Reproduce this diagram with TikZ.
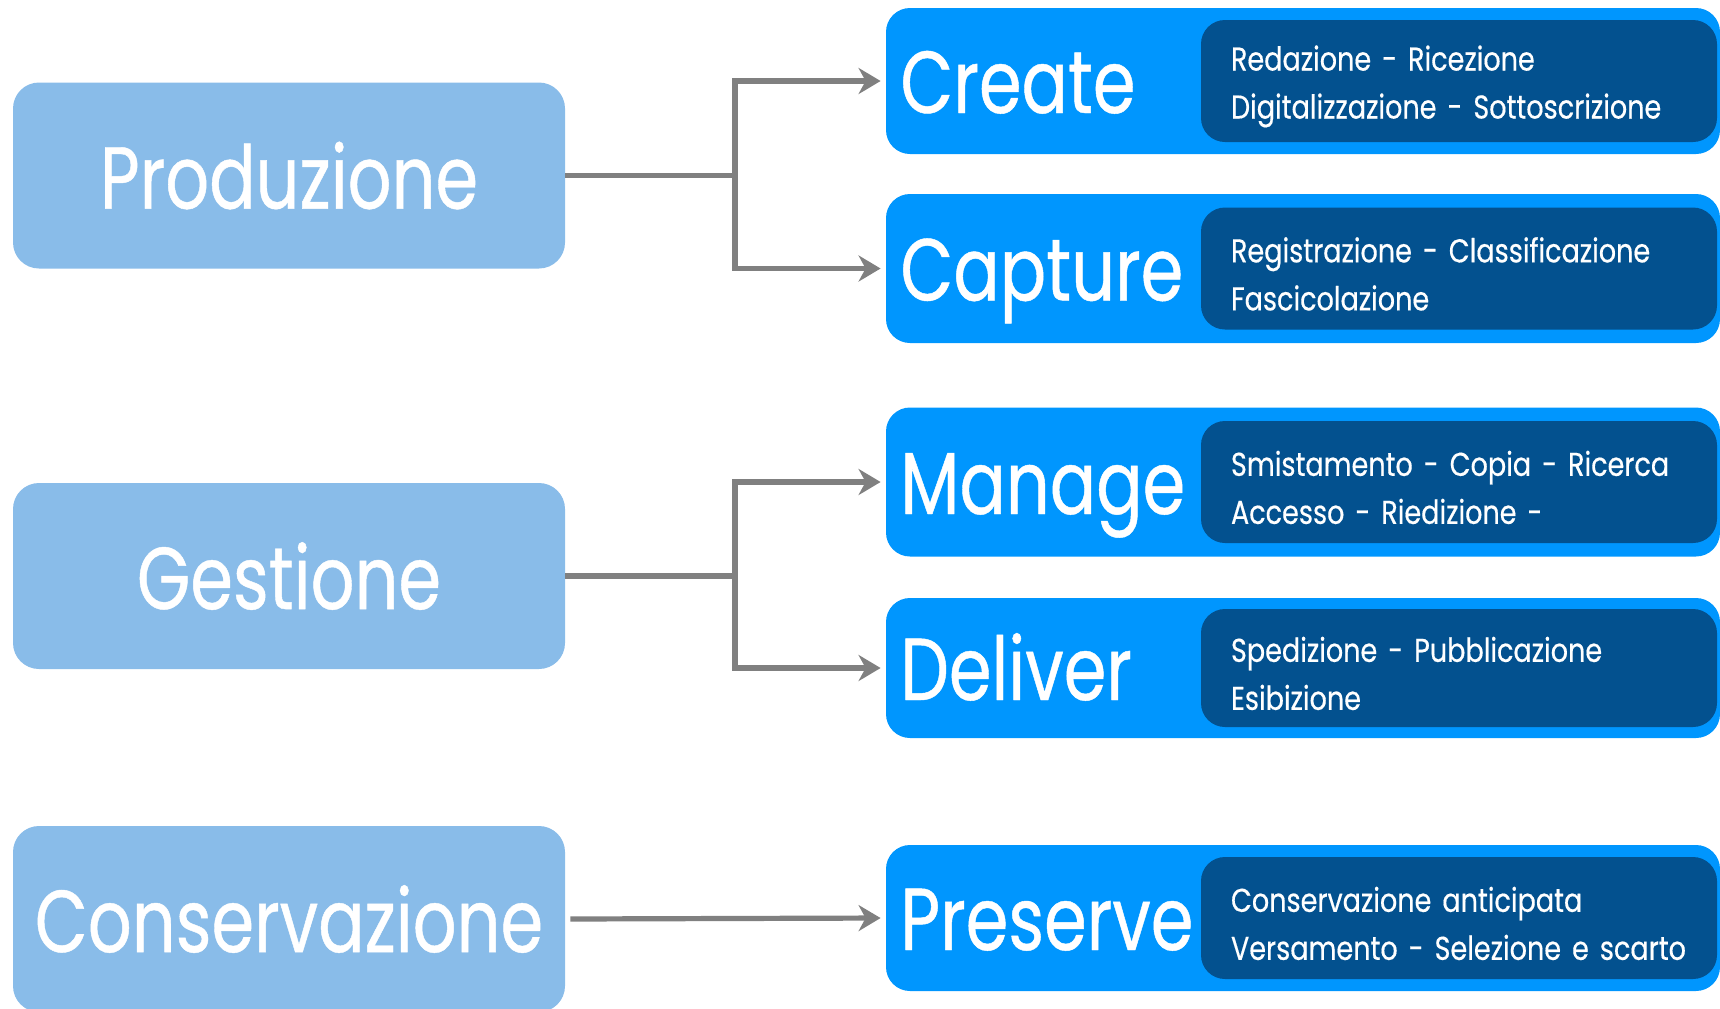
\documentclass[tikz,border=0pt]{standalone}
\usepackage{fontspec}
\setmainfont{Poppins}[FakeStretch=0.78,FakeBold=0.5]
\newfontfamily\actfont{Poppins}[FakeStretch=0.82,FakeBold=0.4,WordSpace=0.6]
\usetikzlibrary{arrows.meta}

\definecolor{phaseblue}{HTML}{89BCE9}
\definecolor{stepblue}{HTML}{0096FE}
\definecolor{actblue}{HTML}{03518F}
\definecolor{linkgray}{HTML}{808080}

\begin{document}
\begin{tikzpicture}[x=0.5pt,y=-0.5pt,
  phase/.style={fill=phaseblue, rounded corners=13pt, minimum width=276pt,
    minimum height=93pt, inner sep=0pt, text=white, font=\fontsize{44}{50}\selectfont},
  stepbox/.style={fill=stepblue, rounded corners=12pt, minimum width=417pt, inner sep=0pt},
  steplabel/.style={anchor=base west, inner sep=0pt, text=white, font=\fontsize{44}{50}\selectfont},
  actbox/.style={fill=actblue, rounded corners=12pt, text width=228pt, inner xsep=15pt,
    inner ysep=0pt, minimum height=61pt, align=left, text=white,
    font=\actfont\fontsize{16.5}{24}\selectfont,
    execute at begin node={\rule{0pt}{18pt}}},
  link/.style={draw=linkgray, line width=2.6pt, shorten >=2.5pt,
    -{Stealth[length=11pt,width=13pt,inset=3.5pt]}}]
\useasboundingbox (0,0) rectangle (1720,1008);

% phases
\node[phase] (prod) at (289,175.5) {Produzione};
\node[phase] (gest) at (289,576) {Gestione};
\node[phase] (cons) at (289,919) {Conservazione};

% steps
\node[stepbox, minimum height=73pt] (create) at (1303,81) {};
\node[steplabel] (createlbl) at (900,113) {Create};
\node[actbox] (createact) at (1459,81)
  {\mbox{Redazione - Ricezione}\\\mbox{Digitalizzazione - Sottoscrizione}};

\node[stepbox, minimum height=74.5pt] (capture) at (1303,268.5) {};
\node[steplabel] (capturelbl) at (900,300.5) {Capture};
\node[actbox] (captureact) at (1459,268.5)
  {\mbox{Registrazione - Classificazione}\\\mbox{Fascicolazione}};

\node[stepbox, minimum height=74.5pt] (manage) at (1303,482) {};
\node[steplabel] (managelbl) at (900,514) {Manage};
\node[actbox] (manageact) at (1459,482)
  {\mbox{Smistamento - Copia - Ricerca}\\\mbox{Accesso - Riedizione -}};

\node[stepbox, minimum height=70pt] (deliver) at (1303,668) {};
\node[steplabel] (deliverlbl) at (900,700) {Deliver};
\node[actbox, minimum height=59pt] (deliveract) at (1459,668)
  {\mbox{Spedizione - Pubblicazione}\\\mbox{Esibizione}};

\node[stepbox, minimum height=73pt] (preserve) at (1303,918) {};
\node[steplabel] (preservelbl) at (900,950) {Preserve};
\node[actbox] (preserveact) at (1459,918)
  {\mbox{Conservazione anticipata}\\\mbox{Versamento - Selezione e scarto}};

% links
\coordinate (prodfork) at (735,175.5);
\coordinate (gestfork) at (735,576);
\draw[link] (prod.east) -- (prodfork) |- (create.west);
\draw[link] (prodfork) |- (capture.west);
\draw[link] (gest.east) -- (gestfork) |- (manage.west);
\draw[link] (gestfork) |- (deliver.west);
\draw[link] ([xshift=2.5pt]cons.east) -- (preserve.west);
\end{tikzpicture}
\end{document}
